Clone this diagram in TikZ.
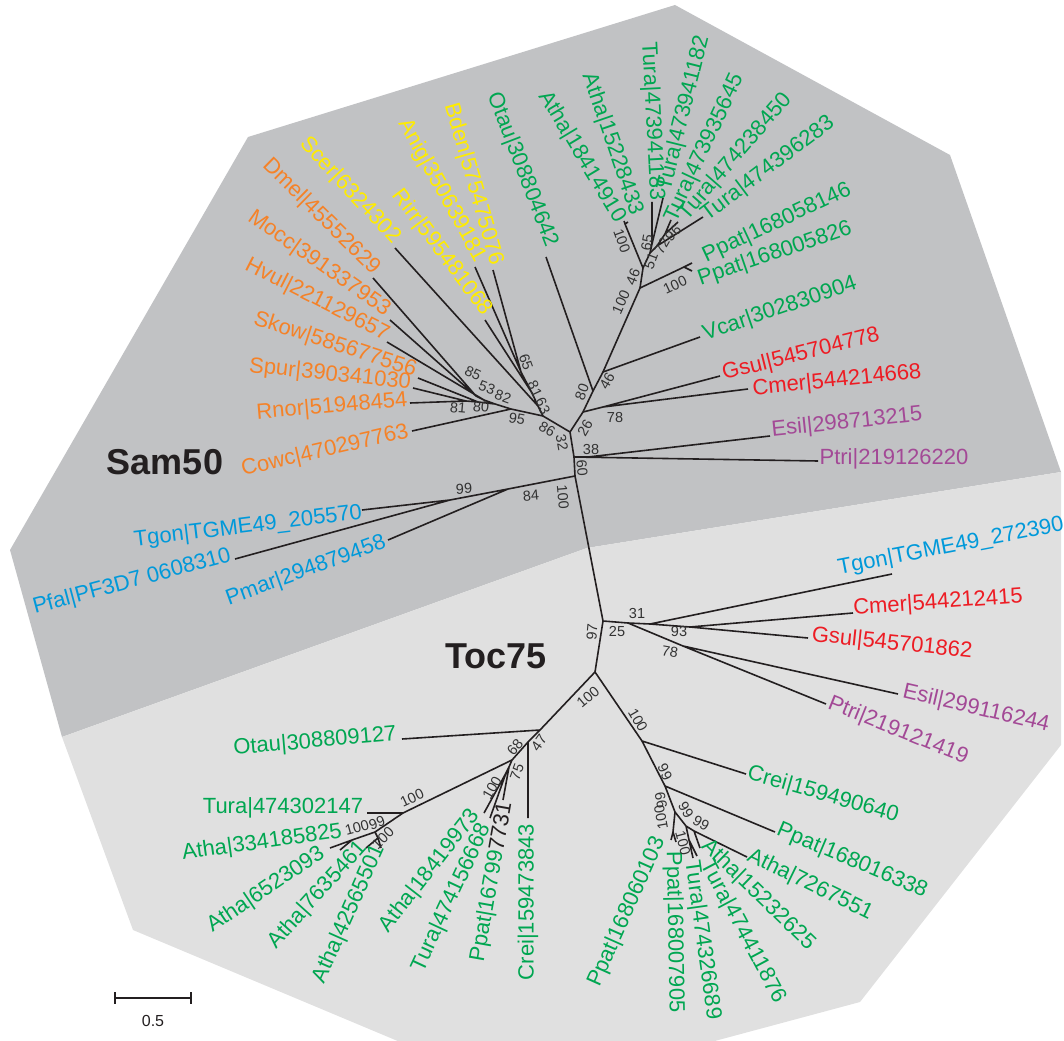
\documentclass[tikz,border=0pt]{standalone}
\usepackage{fontspec}
\setmainfont{Liberation Sans}
\definecolor{darkbg}{RGB}{193,194,196}
\definecolor{lightbg}{RGB}{224,224,224}
\definecolor{branch}{RGB}{35,31,32}
\definecolor{bstext}{RGB}{50,50,50}
\definecolor{cgreen}{RGB}{0,166,81}
\definecolor{corange}{RGB}{245,130,40}
\definecolor{cyellow}{RGB}{255,236,0}
\definecolor{cred}{RGB}{237,28,36}
\definecolor{cpurple}{RGB}{163,73,150}
\definecolor{cblue}{RGB}{0,153,218}

\begin{document}
\begin{tikzpicture}[x=1pt,y=-1pt,
  br/.style={draw=branch,line width=1.6pt,line join=round},
  lab/.style={font=\fontsize{22}{26}\selectfont,inner sep=0pt},
  bs/.style={font=\fontsize{14.5}{16}\selectfont,text=bstext,inner sep=0pt},
  title/.style={font=\fontsize{36}{40}\selectfont\bfseries,text=branch,inner sep=0pt}]
\useasboundingbox (0,0) rectangle (1064,1040);

% background areas
\begin{scope}
\clip (0,0) rectangle (1064,1040);
\fill[darkbg] (248,137) -- (675,5) -- (950,155) -- (1061,472) -- (587,548) -- (62,737) -- (10,550) -- cycle;
\fill[lightbg] (62,737) -- (587,548) -- (1061,472) -- (1061,745) -- (860,1002) -- (644,1060) -- (443,1060) -- (133,930) -- cycle;
\end{scope}

% Sam50 inner nodes
\coordinate (C1) at (570,432);
\coordinate (A) at (543,416);
\coordinate (B) at (574,457);
\coordinate (n26) at (583,412);
\coordinate (n78) at (603,407);
\coordinate (n80) at (593,391);
\coordinate (n46) at (603,372);
\coordinate (Q1) at (640,288);
\coordinate (R) at (684,267);
\coordinate (S) at (643,268);
\coordinate (T) at (625,224);
\coordinate (U) at (650,253);
\coordinate (V) at (652,244);
\coordinate (W) at (657,246);
\coordinate (X) at (665,234);
\coordinate (Y63) at (538,406);
\coordinate (Y81) at (532,393);
\coordinate (Y65) at (521,372);
\coordinate (O95) at (511,409);
\coordinate (O82) at (495,404);
\coordinate (O53) at (484,400);
\coordinate (O85) at (476,396);
\coordinate (O80) at (478,402);
\coordinate (O81) at (466,401);
\coordinate (n38) at (588,457);
\coordinate (D) at (575,476);
\coordinate (E) at (508,489);
\coordinate (F) at (450,500);

% Sam50 tips
\coordinate (Atha18414910) at (624,221);
\coordinate (Atha15228433) at (628,222);
\coordinate (Tura473941183) at (652,202);
\coordinate (Tura473941182) at (663,198);
\coordinate (Tura473935645) at (671,220);
\coordinate (Tura474238450) at (678,222);
\coordinate (Tura474396283) at (703,217);
\coordinate (Ppat168058146) at (692,263);
\coordinate (Ppat168005826) at (692,271);
\coordinate (Otau308804642) at (546,257);
\coordinate (Vcar302830904) at (700,337);
\coordinate (Gsul545704778) at (720,376);
\coordinate (Cmer544214668) at (748,389);
\coordinate (Esil298713215) at (770,436);
\coordinate (Ptri219126220) at (818,461);
\coordinate (Scer6324302) at (395,248);
\coordinate (Dmel45552629) at (373,278);
\coordinate (Mocc391337953) at (390,320);
\coordinate (Hvul221129657) at (387,342);
\coordinate (Skow585677556) at (418,378);
\coordinate (Spur390341030) at (413,388);
\coordinate (Rnor51948454) at (410,403);
\coordinate (Cowc470297763) at (412,431);
\coordinate (Anig350639181) at (475,267);
\coordinate (Bden575475076) at (493,270);
\coordinate (Rirr595481068) at (485,320);
\coordinate (Tgon205570) at (362,510);
\coordinate (Pfal0608310) at (235,559);
\coordinate (Pmar294879458) at (388,540);

% Sam50 branches
\draw[br] (C1) -- (A) (C1) -- (n26) (C1) -- (B);
\draw[br] (n26) -- (n78) (n78) -- (Gsul545704778) (n78) -- (Cmer544214668);
\draw[br] (n26) -- (n80) (n80) -- (Otau308804642) (n80) -- (n46) (n46) -- (Vcar302830904);
\draw[br] (n46) -- (Q1) (Q1) -- (R) (R) -- (Ppat168058146) (R) -- (Ppat168005826);
\draw[br] (Q1) -- (S) (S) -- (T) (T) -- (Atha18414910) (T) -- (Atha15228433);
\draw[br] (S) -- (U) (U) -- (V) (V) -- (Tura473941183) (V) -- (Tura473941182);
\draw[br] (U) -- (W) (W) -- (Tura474396283) (W) -- (X) (X) -- (Tura473935645) (X) -- (Tura474238450);
\draw[br] (A) -- (Y63) (Y63) -- (Scer6324302) (Y63) -- (Y81) (Y81) -- (Rirr595481068)
  (Y81) -- (Y65) (Y65) -- (Anig350639181) (Y65) -- (Bden575475076);
\draw[br] (A) -- (O95) (O95) -- (Cowc470297763) (O95) -- (O82) (O82) -- (O53) (O82) -- (O80)
  (O53) -- (Hvul221129657) (O53) -- (O85) (O85) -- (Dmel45552629) (O85) -- (Mocc391337953)
  (O80) -- (Skow585677556) (O80) -- (O81) (O81) -- (Spur390341030) (O81) -- (Rnor51948454);
\draw[br] (B) -- (n38) (n38) -- (Esil298713215) (B) -- (Ptri219126220);
\draw[br] (B) -- (D) (D) -- (E) (E) -- (Pmar294879458) (E) -- (F) (F) -- (Tgon205570) (F) -- (Pfal0608310);

% Toc75 inner nodes
\coordinate (G) at (603,621);
\coordinate (H) at (595,672);
\coordinate (I) at (628,623);
\coordinate (J) at (650,624);
\coordinate (K) at (690,627);
\coordinate (L) at (683,646);
\coordinate (N) at (642,741);
\coordinate (O) at (665,786);
\coordinate (P) at (675,812);
\coordinate (P2) at (673,832);
\coordinate (Q) at (686,826);
\coordinate (Q3) at (694,831);
\coordinate (Q2) at (689,840);
\coordinate (M) at (540,730);
\coordinate (M47) at (528,742);
\coordinate (M68) at (512,760);
\coordinate (M75) at (509,767);
\coordinate (M100) at (506,773);
\coordinate (Z1) at (403,813);
\coordinate (Z2) at (375,832);
\coordinate (Z3) at (352,840);
\coordinate (Z4) at (378,838);

% Toc75 tips
\coordinate (Tgon272390) at (892,574);
\coordinate (Cmer544212415) at (853,613);
\coordinate (Gsul545701862) at (808,638);
\coordinate (Esil299116244) at (898,694);
\coordinate (Ptri219121419) at (826,704);
\coordinate (Crei159490640) at (746,774);
\coordinate (Ppat168016338) at (775,832);
\coordinate (Ppat168060103) at (671,840);
\coordinate (Ppat168007905) at (676,842);
\coordinate (Atha7267551) at (747,857);
\coordinate (Atha15232625) at (700,848);
\coordinate (Tura474411876) at (697,856);
\coordinate (Tura474326689) at (693,858);
\coordinate (Otau308809127) at (402,739);
\coordinate (Crei159473843) at (528,818);
\coordinate (Ppat167997731) at (503,800);
\coordinate (Atha18419973) at (484,813);
\coordinate (Tura474156668) at (490,818);
\coordinate (Tura474302147) at (367,813);
\coordinate (Atha334185825) at (330,848);
\coordinate (Atha6523093) at (340,850);
\coordinate (Atha7635461) at (366,848);
\coordinate (Atha42565501) at (381,848);

% Toc75 branches
\draw[br] (D) -- (G) (G) -- (H) (G) -- (I);
\draw[br] (I) -- (J) (J) -- (Tgon272390) (J) -- (K) (K) -- (Cmer544212415) (K) -- (Gsul545701862);
\draw[br] (I) -- (L) (L) -- (Esil299116244) (L) -- (Ptri219121419);
\draw[br] (H) -- (N) (N) -- (Crei159490640) (N) -- (O) (O) -- (Ppat168016338) (O) -- (P);
\draw[br] (P) -- (P2) (P2) -- (Ppat168060103) (P2) -- (Ppat168007905);
\draw[br] (P) -- (Q) (Q) -- (Q3) (Q3) -- (Atha7267551) (Q3) -- (Atha15232625)
  (Q) -- (Q2) (Q2) -- (Tura474411876) (Q2) -- (Tura474326689);
\draw[br] (H) -- (M) (M) -- (Otau308809127) (M) -- (M47) (M47) -- (Crei159473843) (M47) -- (M68);
\draw[br] (M68) -- (M75) (M75) -- (Ppat167997731) (M75) -- (M100)
  (M100) -- (Atha18419973) (M100) -- (Tura474156668);
\draw[br] (M68) -- (Z1) (Z1) -- (Tura474302147) (Z1) -- (Z2) (Z2) -- (Z3) (Z2) -- (Z4)
  (Z3) -- (Atha334185825) (Z3) -- (Atha6523093) (Z4) -- (Atha7635461) (Z4) -- (Atha42565501);

% Sam50 labels
\node[lab,text=cgreen,rotate=-59] (lAtha18414910) at (582,157) {Atha|18414910};
\node[lab,text=cgreen,rotate=-71] (lAtha15228433) at (612,144) {Atha|15228433};
\node[lab,text=cgreen,rotate=-87] (lTura473941183) at (652,121) {Tura|473941183};
\node[lab,text=cgreen,rotate=76] (lTura473941182) at (684,113) {Tura|473941182};
\node[lab,text=cgreen,rotate=65] (lTura473935645) at (705,148) {Tura|473935645};
\node[lab,text=cgreen,rotate=49] (lTura474238450) at (736,157) {Tura|474238450};
\node[lab,text=cgreen,rotate=37] (lTura474396283) at (768,169) {Tura|474396283};
\node[lab,text=cgreen,rotate=25] (lPpat168058146) at (777,223) {Ppat|168058146};
\node[lab,text=cgreen,rotate=19] (lPpat168005826) at (775,254) {Ppat|168005826};
\node[lab,text=cgreen,rotate=-69] (lOtau308804642) at (522,170) {Otau|308804642};
\node[lab,text=cgreen,rotate=19] (lVcar302830904) at (780,309) {Vcar|302830904};
\node[lab,text=cred,rotate=14] (lGsul545704778) at (801,355) {Gsul|545704778};
\node[lab,text=cred,rotate=6] (lCmer544214668) at (837,381) {Cmer|544214668};
\node[lab,text=cpurple,rotate=6] (lEsil298713215) at (847,423) {Esil|298713215};
\node[lab,text=cpurple] (lPtri219126220) at (894,459) {Ptri|219126220};
\node[lab,text=cyellow,rotate=-47] (lScer6324302) at (350,191) {Scer|6324302};
\node[lab,text=cyellow,rotate=-61] (lAnig350639181) at (442,191) {Anig|350639181};
\node[lab,text=cyellow,rotate=-74] (lBden575475076) at (473,184) {Bden|575475076};
\node[lab,text=cyellow,rotate=-53] (lRirr595481068) at (442,253) {Rirr|595481068};
\node[lab,text=corange,rotate=-44.5] (lDmel45552629) at (321,217) {Dmel|45552629};
\node[lab,text=corange,rotate=-35] (lMocc391337953) at (319,264) {Mocc|391337953};
\node[lab,text=corange,rotate=-27] (lHvul221129657) at (317,300) {Hvul|221129657};
\node[lab,text=corange,rotate=-18] (lSkow585677556) at (335,345) {Skow|585677556};
\node[lab,text=corange,rotate=-6] (lSpur390341030) at (330,375) {Spur|390341030};
\node[lab,text=corange,rotate=5] (lRnor51948454) at (332,407) {Rnor|51948454};
\node[lab,text=corange,rotate=13] (lCowc470297763) at (325,451) {Cowc|470297763};
\node[lab,text=cblue,rotate=7] (lTgon205570) at (248,527) {Tgon|TGME49\_205570};
\node[lab,text=cblue,rotate=15] (lPfal0608310) at (132,582) {Pfal|PF3D7 0608310};
\node[lab,text=cblue,rotate=20] (lPmar294879458) at (306,571) {Pmar|294879458};

% Toc75 labels
\node[lab,text=cblue,rotate=11] (lTgon272390) at (951,547) {Tgon|TGME49\_272390};
\node[lab,text=cred,rotate=4] (lCmer544212415) at (938,603) {Cmer|544212415};
\node[lab,text=cred,rotate=-6] (lGsul545701862) at (892,644) {Gsul|545701862};
\node[lab,text=cpurple,rotate=-13] (lEsil299116244) at (976,709) {Esil|299116244};
\node[lab,text=cpurple,rotate=-22] (lPtri219121419) at (898,731) {Ptri|219121419};
\node[lab,text=cgreen,rotate=-16] (lCrei159490640) at (823,795) {Crei|159490640};
\node[lab,text=cgreen,rotate=-23] (lPpat168016338) at (852,861) {Ppat|168016338};
\node[lab,text=cgreen,rotate=-26] (lAtha7267551) at (810,885) {Atha|7267551};
\node[lab,text=cgreen,rotate=-44] (lAtha15232625) at (758,895) {Atha|15232625};
\node[lab,text=cgreen,rotate=-62] (lTura474411876) at (743,932) {Tura|474411876};
\node[lab,text=cgreen,rotate=-82] (lTura474326689) at (702,940) {Tura|474326689};
\node[lab,text=cgreen,rotate=-89] (lPpat168007905) at (674,932) {Ppat|168007905};
\node[lab,text=cgreen,rotate=66] (lPpat168060103) at (627,912) {Ppat|168060103};
\node[lab,text=cgreen,rotate=5] (lOtau308809127) at (315,742) {Otau|308809127};
\node[lab,text=cgreen] (lTura474302147) at (283,808) {Tura|474302147};
\node[lab,text=cgreen,rotate=8] (lAtha334185825) at (262,843) {Atha|334185825};
\node[lab,text=cgreen,rotate=34] (lAtha6523093) at (266,890) {Atha|6523093};
\node[lab,text=cgreen,rotate=48] (lAtha7635461) at (318,895) {Atha|7635461};
\node[lab,text=cgreen,rotate=66] (lAtha42565501) at (349,914) {Atha|42565501};
\node[lab,text=cgreen,rotate=52] (lAtha18419973) at (430,871) {Atha|18419973};
\node[lab,text=cgreen,rotate=65] (lTura474156668) at (452,898) {Tura|474156668};
\node[lab,text=cgreen,rotate=80] (lPpat167997731) at (492,882) {Ppat|16799\textcolor{branch}{7731}};
\node[lab,text=cgreen,rotate=90] (lCrei159473843) at (528,902) {Crei|159473843};

% bootstrap values
\node[bs,rotate=66] at (621,302) {100};
\node[bs,rotate=68] at (633,277) {46};
\node[bs,rotate=25] at (675,285) {100};
\node[bs,rotate=-70] at (622,241) {100};
\node[bs,rotate=80] at (647,243) {65};
\node[bs,rotate=70] at (651,261) {51};
\node[bs,rotate=60] at (662,246) {72};
\node[bs,rotate=45] at (673,233) {96};
\node[bs,rotate=70] at (582,392) {80};
\node[bs,rotate=60] at (607,381) {46};
\node[bs,rotate=60] at (585,428) {26};
\node[bs] at (615,418) {78};
\node[bs] at (591,450) {38};
\node[bs,rotate=-85] at (582,468) {60};
\node[bs,rotate=-80] at (562,443) {32};
\node[bs,rotate=-30] at (547,429) {86};
\node[bs,rotate=-65] at (543,406) {63};
\node[bs,rotate=-65] at (535,389) {81};
\node[bs,rotate=-70] at (526,362) {65};
\node[bs,rotate=-10] at (517,419) {95};
\node[bs,rotate=-20] at (503,397) {82};
\node[bs,rotate=-20] at (487,388) {53};
\node[bs,rotate=-25] at (473,373) {85};
\node[bs,rotate=-5] at (481,407) {80};
\node[bs,rotate=-5] at (458,408) {81};
\node[bs,rotate=3] at (464,489) {99};
\node[bs,rotate=5] at (531,496) {84};
\node[bs,rotate=-85] at (563,497) {100};
\node[bs,rotate=85] at (592,632) {97};
\node[bs] at (637,614) {31};
\node[bs] at (617,632) {25};
\node[bs] at (679,632) {93};
\node[bs,rotate=-10] at (670,652) {78};
\node[bs,rotate=40] at (588,697) {100};
\node[bs,rotate=-60] at (638,720) {100};
\node[bs,rotate=-65] at (665,772) {99};
\node[bs,rotate=100] at (661,800) {99};
\node[bs,rotate=100] at (661,817) {100};
\node[bs,rotate=-60] at (686,810) {99};
\node[bs,rotate=-30] at (701,823) {99};
\node[bs,rotate=-75] at (683,843) {100};
\node[bs,rotate=50] at (515,747) {68};
\node[bs,rotate=55] at (539,743) {47};
\node[bs,rotate=70] at (517,772) {75};
\node[bs,rotate=60] at (492,788) {100};
\node[bs,rotate=25] at (412,798) {100};
\node[bs,rotate=15] at (357,828) {100};
\node[bs,rotate=20] at (377,823) {99};
\node[bs,rotate=45] at (383,838) {100};

% group names
\node[title] (sam) at (165,462) {Sam50};
\node[title] (toc) at (496,656) {Toc75};

% scale bar
\coordinate (sbl) at (115,998);
\coordinate (sbr) at (191,998);
\draw[br] (sbl) -- (sbr) ([yshift=6pt]sbl) -- ([yshift=-6pt]sbl) ([yshift=6pt]sbr) -- ([yshift=-6pt]sbr);
\node[font=\fontsize{16}{18}\selectfont,text=branch] (sblab) at (153,1021) {0.5};
\end{tikzpicture}
\end{document}
